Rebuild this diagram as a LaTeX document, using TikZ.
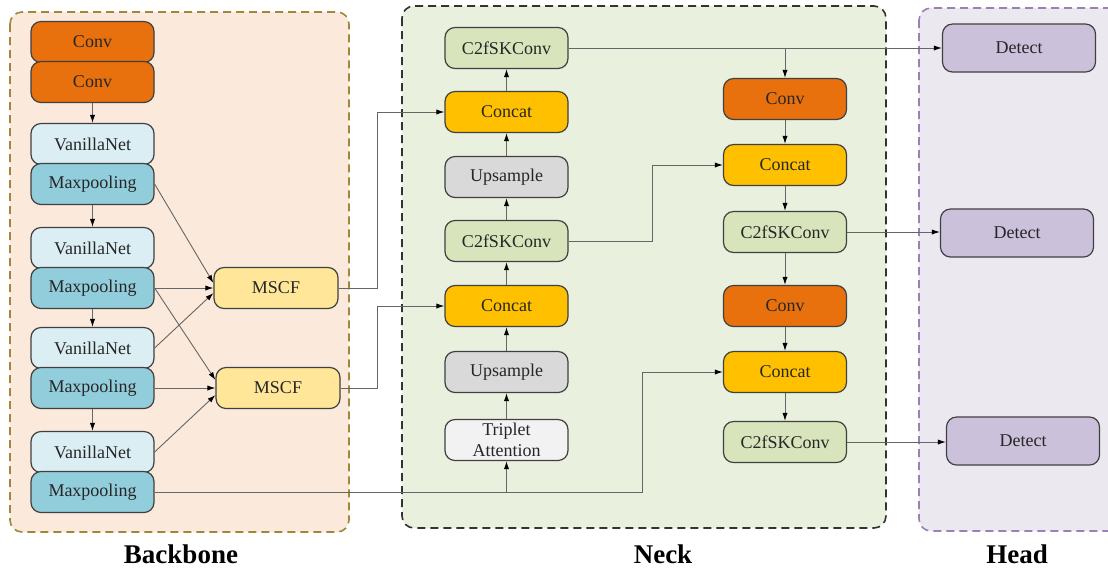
\documentclass[tikz,border=0pt]{standalone}
\usepackage{fontspec}
\setmainfont{Liberation Serif}
\usetikzlibrary{arrows.meta}

\definecolor{convc}{RGB}{232,113,14}
\definecolor{vanc}{RGB}{218,238,243}
\definecolor{maxc}{RGB}{146,205,220}
\definecolor{mscfc}{RGB}{255,230,153}
\definecolor{skc}{RGB}{216,228,188}
\definecolor{catc}{RGB}{255,192,0}
\definecolor{upc}{RGB}{217,217,217}
\definecolor{tric}{RGB}{242,242,242}
\definecolor{detc}{RGB}{204,193,218}
\definecolor{bbfill}{RGB}{251,233,219}
\definecolor{bbline}{RGB}{160,135,60}
\definecolor{nkfill}{RGB}{233,240,222}
\definecolor{hdfill}{RGB}{236,232,239}
\definecolor{hdline}{RGB}{155,128,184}

\begin{document}
\begin{tikzpicture}[x=0.5pt, y=-0.5pt, font=\fontsize{9}{10.5}\selectfont,
    block/.style={draw=black!75, line width=0.6pt, rounded corners=5pt, text=black!85,
        minimum width=61.5pt, minimum height=20.5pt, inner sep=0.5pt, align=center},
    detect/.style={block, minimum width=76.5pt, minimum height=24pt},
    wire/.style={draw=black!60, line width=0.45pt, -{Latex[length=4pt, width=2.6pt, color=black]}},
    panel/.style={dashed, dash pattern=on 4pt off 2.5pt, line width=0.8pt, rounded corners=6pt},
    title/.style={font=\fontsize{13.5}{15}\selectfont\bfseries}]
    \useasboundingbox (0,0) rectangle (1108,570);

    \draw[panel, draw=bbline, fill=bbfill] (10,12) rectangle (349,532);
    \draw[panel, draw=black!80, fill=nkfill] (402,6) rectangle (886,528);
    \begin{scope}
        \clip (0,0) rectangle (1108,570);
        \draw[panel, draw=hdline, fill=hdfill] (919,8) rectangle (1130,531);
    \end{scope}

    \node[block, fill=convc] (cv1) at (92.5,42) {Conv};
    \node[block, fill=convc] (cv2) at (92.5,82) {Conv};
    \node[block, fill=vanc] (va1) at (92.5,144) {VanillaNet};
    \node[block, fill=maxc] (mp1) at (92.5,184) {Maxpooling};
    \node[block, fill=vanc] (va2) at (92.5,248) {VanillaNet};
    \node[block, fill=maxc] (mp2) at (92.5,288) {Maxpooling};
    \node[block, fill=vanc] (va3) at (92.5,348) {VanillaNet};
    \node[block, fill=maxc] (mp3) at (92.5,388) {Maxpooling};
    \node[block, fill=vanc] (va4) at (92.5,452) {VanillaNet};
    \node[block, fill=maxc] (mp4) at (92.5,492) {Maxpooling};
    \node[block, fill=mscfc, minimum width=62pt] (ms1) at (276,288) {MSCF};
    \node[block, fill=mscfc, minimum width=62pt] (ms2) at (278,388) {MSCF};

    \node[block, fill=skc] (sk1) at (506.5,48) {C2fSKConv};
    \node[block, fill=catc] (ct1) at (506.5,112) {Concat};
    \node[block, fill=upc] (up1) at (506.5,177) {Upsample};
    \node[block, fill=skc] (sk2) at (506.5,241) {C2fSKConv};
    \node[block, fill=catc] (ct2) at (506.5,306) {Concat};
    \node[block, fill=upc] (up2) at (506.5,372) {Upsample};
    \node[block, fill=tric, inner sep=0pt] (tri) at (506.5,440) {Triplet\\Attention};

    \node[block, fill=convc] (cv3) at (785,99) {Conv};
    \node[block, fill=catc] (ct3) at (785,165) {Concat};
    \node[block, fill=skc] (sk3) at (785,232) {C2fSKConv};
    \node[block, fill=convc] (cv4) at (785,306) {Conv};
    \node[block, fill=catc] (ct4) at (785,372) {Concat};
    \node[block, fill=skc] (sk4) at (785,442) {C2fSKConv};

    \node[detect, fill=detc] (de1) at (1019,48) {Detect};
    \node[detect, fill=detc] (de2) at (1017,233) {Detect};
    \node[detect, fill=detc] (de3) at (1023,441) {Detect};

    \foreach \a/\b in {cv2/va1, mp1/va2, mp2/va3, mp3/va4,
            ct1/sk1, up1/ct1, sk2/up1, ct2/sk2, up2/ct2, tri/up2,
            cv3/ct3, ct3/sk3, sk3/cv4, cv4/ct4, ct4/sk4}
        \draw[wire] (\a) -- (\b);

    \draw[wire] (mp1.east) -- ([yshift=2.5pt]ms1.west);
    \draw[wire] (mp2.east) -- (ms1.west);
    \draw[wire] (va3.east) -- ([yshift=-2.5pt]ms1.west);
    \draw[wire] (mp2.east) -- ([yshift=4pt]ms2.west);
    \draw[wire] (mp3.east) -- (ms2.west);
    \draw[wire] (va4.east) -- ([yshift=-3.5pt]ms2.west);

    \draw[wire] (ms1.east) -- ++(39,0) |- (ct1.west);
    \draw[wire] (ms2.east) -- ++(37,0) |- (ct2.west);
    \draw[wire] (mp4.east) -- ++(488,0) |- (ct4.west);
    \draw[wire] (tri.south |- mp4.east) -- (tri.south);
    \draw[wire] (sk2.east) -- ++(84,0) |- (ct3.west);

    \draw[wire] (sk1.east) -- (de1.west);
    \draw[wire] (cv3.north |- sk1.east) -- (cv3.north);
    \draw[wire] (sk3.east) -- (de2.west |- sk3.east);
    \draw[wire] (sk4.east) -- (de3.west |- sk4.east);

    \node[title] (lbb) at (181,554) {Backbone};
    \node[title] (lnk) at (663,554) {Neck};
    \node[title] (lhd) at (1017,554) {Head};
\end{tikzpicture}
\end{document}
